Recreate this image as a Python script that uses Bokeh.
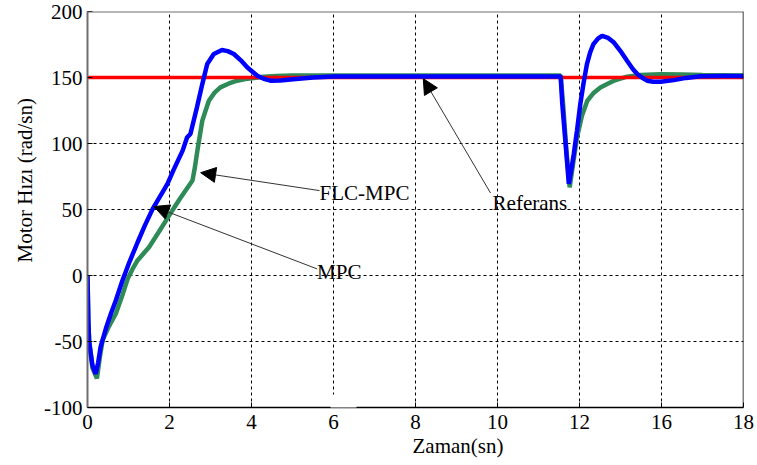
import math
from bokeh.plotting import figure
from bokeh.models import (Range1d, FixedTicker, Label, Arrow, NormalHead, Span, Title, BoxAnnotation)
from bokeh.embed import file_html
from bokeh.resources import INLINE

# ---------------- data ----------------
x_ticks = [0, 2, 4, 6, 8, 10, 12, 14, 16]
x_tick_labels = ["0", "2", "4", "6", "8", "10", "12", "16", "18"]
y_ticks = [-100, -50, 0, 50, 100, 150, 200]
y_tick_labels = ["-100", "-50", "0", "50", "100", "150", "200"]

ref_t = [0, 16]
ref_v = [150, 150]

# MPC (blue)
mpc_t = [0.0, 0.02, 0.04, 0.12, 0.20, 0.26, 0.32, 0.45, 0.57, 0.69, 0.85, 1.02, 1.22,
         1.40, 1.59, 1.77, 1.95, 2.10, 2.32, 2.43, 2.51, 2.67, 2.80, 2.92, 3.08, 3.28,
         3.42, 3.57, 3.74, 3.90, 4.14, 4.30, 4.46, 4.70, 4.95, 5.50, 6.00, 8.0, 10.0,
         11.54, 11.58, 11.66, 11.74, 11.80, 11.86, 11.94, 12.02, 12.10, 12.18, 12.26,
         12.34, 12.45, 12.55, 12.70, 12.84, 13.00, 13.16, 13.30, 13.41, 13.53, 13.65,
         13.80, 13.98, 14.30, 14.60, 14.95, 15.5, 16.0]
mpc_v = [0.0, -34, -50, -68, -74.5, -66, -54, -40, -29, -19, -4, 10, 25,
         38, 50.5, 60, 69.4, 80, 94.6, 104.7, 107.2, 127.4, 145, 160.2, 167.8, 170.8,
         170, 167.8, 163, 157.6, 151.4, 149, 147.6, 147.8, 148.5, 150.0, 150.8, 150.8, 150.8,
         150.8, 130, 100, 69.4, 80, 92, 110, 130, 146, 160, 169,
         175.3, 179.5, 181.6, 180, 176.5, 170, 162.7, 156.5, 152.6, 149.8, 147.6,
         146.8, 146.8, 148.0, 149.7, 151.0, 151.2, 151.2]

# FLC-MPC (green)
flc_t = [0.0, 0.02, 0.04, 0.12, 0.23, 0.30, 0.37, 0.50, 0.69, 0.85, 0.98, 1.10, 1.22,
         1.50, 1.75, 1.99, 2.25, 2.56, 2.62, 2.68, 2.80, 2.96, 3.10, 3.24, 3.45, 3.65,
         3.85, 4.06, 4.30, 4.60, 5.00, 6.00, 8.0, 10.0,
         11.54, 11.60, 11.68, 11.76, 11.85, 11.94, 12.06, 12.19, 12.35, 12.51, 12.70,
         12.84, 13.00, 13.16, 13.49, 13.98, 14.50, 15.0, 16.0]
flc_v = [0.0, -34, -50, -70, -78, -62, -49, -40, -29, -15, -2.5, 5, 11.4,
         21.4, 33.5, 45.4, 58, 71.9, 82, 94.6, 117.3, 132.4, 138.5, 142.5, 145.5, 147.6,
         148.8, 149.6, 150.5, 151.2, 151.5, 151.5, 151.5, 151.5,
         151.5, 130, 95, 66.8, 86, 104.7, 121, 132.4, 138.5, 142.5, 145.5,
         147.6, 149.2, 150.6, 151.9, 152.4, 152.2, 151.8, 151.6]

# annotations: text, text position, arrow tail, arrow tip
ann_text = ["FLC-MPC", "MPC", "Referans"]
ann_text_x = [5.66, 5.60, 9.88]
ann_text_y = [62.5, 2.3, 55.0]
ann_tail_x = [5.66, 5.60, 9.83]
ann_tail_y = [64.3, 5.0, 62.5]
ann_tip_x = [2.76, 1.62, 8.19]
ann_tip_y = [77.9, 52.2, 149.1]

x_label = "Zaman(sn)"
y_label = "Motor Hızı (rad/sn)"

# ---------------- figure ----------------
FONT = "Liberation Serif"
FS = "21px"

p = figure(width=757, height=465, output_backend="svg", toolbar_location=None,
           x_range=Range1d(0, 16), y_range=Range1d(-100, 200),
           min_border_left=87, min_border_right=14, min_border_top=11, min_border_bottom=58)
p.background_fill_color = "white"
p.border_fill_color = "white"
p.outline_line_color = None

p.xaxis.ticker = FixedTicker(ticks=x_ticks)
p.xaxis.major_label_overrides = {t: l for t, l in zip(x_ticks, x_tick_labels)}
p.yaxis.ticker = FixedTicker(ticks=y_ticks)
p.yaxis.major_label_overrides = {t: l for t, l in zip(y_ticks, y_tick_labels)}

p.axis.major_label_text_font = FONT
p.axis.major_label_text_font_size = FS
p.axis.major_label_text_color = "black"
p.axis.major_tick_in = 5
p.axis.major_tick_out = 0
p.axis.minor_tick_in = 0
p.axis.minor_tick_out = 0
p.axis.major_tick_line_color = "black"

p.xaxis.axis_line_color = "black"
p.xaxis.axis_line_width = 1.5
p.xaxis.major_label_standoff = 7
p.yaxis.axis_line_color = "#6e6e6e"
p.yaxis.axis_line_width = 2
p.yaxis.major_label_standoff = 5

# box edges: top (grey) and right (black)
p.add_layout(Span(location=200, dimension="width", line_color="#6e6e6e", line_width=2))
p.add_layout(Span(location=16, dimension="height", line_color="black", line_width=1.5))

for g in (p.xgrid, p.ygrid):
    g.grid_line_color = "black"
    g.grid_line_dash = "3 3"
    g.grid_line_width = 1
    g.grid_line_alpha = 1.0

p.line(flc_t, flc_v, line_color="#2e8b57", line_width=4.5)
p.line(ref_t, ref_v, line_color="#ff0000", line_width=3.5)
p.line(mpc_t, mpc_v, line_color="#0000ff", line_width=4.5)

for txt, tx, ty, ax0, ay0, ax1, ay1 in zip(ann_text, ann_text_x, ann_text_y,
                                            ann_tail_x, ann_tail_y, ann_tip_x, ann_tip_y):
    p.add_layout(Arrow(end=NormalHead(size=15, fill_color="black", line_color="black"),
                       x_start=ax0, y_start=ay0, x_end=ax1, y_end=ay1,
                       line_color="#333333", line_width=1))
    p.add_layout(Label(x=tx, y=ty, text=txt, text_baseline="middle", text_align="left",
                       text_font=FONT, text_font_size=FS, text_color="black"))

# white patch over the bottom edge near x=6 (as in the reference image)
p.add_layout(BoxAnnotation(left=243, right=269, bottom=-6, top=13,
                           left_units="screen", right_units="screen",
                           bottom_units="screen", top_units="screen",
                           fill_color="white", fill_alpha=1.0, line_color=None))

# axis titles, placed off-centre as in the reference
xt = Title(text=x_label, align="left", offset=325, standoff=0,
           text_font=FONT, text_font_size=FS, text_font_style="normal", text_color="black")
p.add_layout(xt, "below")
yt = Title(text=y_label, align="left", offset=145, standoff=9,
           text_font=FONT, text_font_size=FS, text_font_style="normal", text_color="black")
p.add_layout(yt, "left")

open("out.html", "w").write(file_html(p, INLINE))
